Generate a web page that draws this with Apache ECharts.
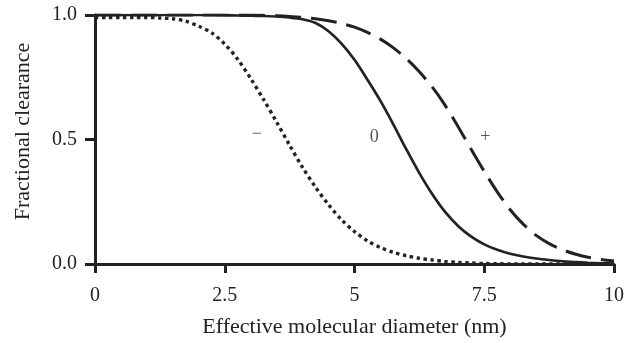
<!DOCTYPE html>
<html>
<head>
<meta charset="utf-8">
<script src="https://cdn.jsdelivr.net/npm/echarts@6/dist/echarts.min.js"></script>
<style>
  html, body { margin: 0; padding: 0; background: #fff; }
  #chart { width: 627px; height: 343px; }
</style>
</head>
<body>
<div id="chart"></div>
<script>
// values (effective diameter in nm, step 0.25)
const diam = [0, 0.25, 0.5, 0.75, 1, 1.25, 1.5, 1.75, 2, 2.25, 2.5, 2.75, 3, 3.25, 3.5, 3.75, 4, 4.25, 4.5, 4.75,
  5, 5.25, 5.5, 5.75, 6, 6.25, 6.5, 6.75, 7, 7.25, 7.5, 7.75, 8, 8.25, 8.5, 8.75, 9, 9.25, 9.5, 9.75, 10];

// negatively charged (dotted)
const negative = [0.99, 0.99, 0.99, 0.99, 0.99, 0.988, 0.985, 0.975, 0.955, 0.928, 0.883, 0.822, 0.745, 0.66, 0.57, 0.477, 0.388, 0.308, 0.238, 0.178,
  0.13, 0.093, 0.066, 0.047, 0.033, 0.023, 0.016, 0.01, 0.006, 0.004, 0.002, 0.001, 0, 0, 0, 0, 0, 0, 0, 0, 0];

// neutral (solid)
const neutral = [1, 1, 1, 1, 1, 1, 1, 1, 1, 1, 0.999, 0.998, 0.997, 0.996, 0.994, 0.99, 0.983, 0.968, 0.935, 0.885,
  0.82, 0.74, 0.655, 0.56, 0.46, 0.365, 0.28, 0.208, 0.152, 0.11, 0.079, 0.057, 0.041, 0.03, 0.022, 0.016, 0.011, 0.008, 0.005, 0.003, 0.002];

// positively charged (dashed)
const positive = [1, 1, 1, 1, 1, 1, 1, 1, 1, 1, 1, 1, 1, 0.999, 0.997, 0.994, 0.99, 0.985, 0.977, 0.966,
  0.951, 0.93, 0.903, 0.868, 0.825, 0.772, 0.71, 0.636, 0.55, 0.46, 0.372, 0.29, 0.218, 0.16, 0.115, 0.082, 0.058, 0.04, 0.027, 0.018, 0.012];

const curveNames = ['\u2212', '0', '+'];
const curveLabelX = [3.12, 5.38, 7.52];
const curveLabelY = [0.52, 0.51, 0.51];

const xTicks = [0, 2.5, 5, 7.5, 10];
const yTicks = [0, 0.5, 1.0];

const ink = '#222';
const serif = '"Liberation Serif", "DejaVu Serif", serif';

const pairs = ys => diam.map((x, i) => [x, ys[i]]);

const chart = echarts.init(document.getElementById('chart'));

chart.setOption({
  animation: false,
  grid: { left: 95, right: 11, top: 15, bottom: 79 },
  xAxis: {
    type: 'value',
    min: 0,
    max: 10,
    interval: 2.5,
    name: 'Effective molecular diameter (nm)',
    nameLocation: 'middle',
    nameGap: 52,
    nameTextStyle: { fontFamily: serif, fontSize: 22, color: ink },
    axisLine: { onZero: false, lineStyle: { color: ink, width: 3 } },
    axisTick: { length: 9, lineStyle: { color: ink, width: 3 } },
    axisLabel: {
      margin: 22,
      fontFamily: serif,
      fontSize: 20,
      color: ink,
      formatter: v => (xTicks.includes(v) ? String(v) : ''),
    },
    splitLine: { show: false },
  },
  yAxis: {
    type: 'value',
    min: 0,
    max: 1,
    interval: 0.5,
    name: 'Fractional clearance',
    nameLocation: 'middle',
    nameGap: 61,
    // left padding nudges the rotated title a little upwards, as in the source
    nameTextStyle: { fontFamily: serif, fontSize: 22, color: ink, padding: [0, 0, 0, 16] },
    axisLine: { show: true, lineStyle: { color: ink, width: 3 } },
    axisTick: { show: true, length: 10, lineStyle: { color: ink, width: 3 } },
    axisLabel: {
      margin: 18,
      fontFamily: serif,
      fontSize: 20,
      color: ink,
      formatter: v => (yTicks.includes(v) ? v.toFixed(1) : ''),
    },
    splitLine: { show: false },
  },
  series: [
    {
      name: '+',
      type: 'line',
      smooth: 0.3,
      showSymbol: false,
      lineStyle: { color: ink, width: 3, type: [26, 10] },
      data: pairs(positive),
      z: 2,
    },
    {
      name: '0',
      type: 'line',
      smooth: 0.3,
      showSymbol: false,
      lineStyle: { color: ink, width: 2.7 },
      data: pairs(neutral),
      z: 3,
    },
    {
      name: '\u2212',
      type: 'line',
      smooth: 0.3,
      showSymbol: false,
      lineStyle: { color: ink, width: 3.4, type: [3.4, 3.6] },
      data: pairs(negative),
      z: 3,
    },
    {
      name: 'labels',
      type: 'scatter',
      symbolSize: 0,
      silent: true,
      data: curveNames.map((n, i) => ({ value: [curveLabelX[i], curveLabelY[i]], name: n })),
      label: {
        show: true,
        position: 'inside',
        formatter: p => p.name,
        fontFamily: serif,
        fontSize: 18,
        color: '#2a2a2a',
      },
      z: 4,
    },
  ],
});
</script>
</body>
</html>
